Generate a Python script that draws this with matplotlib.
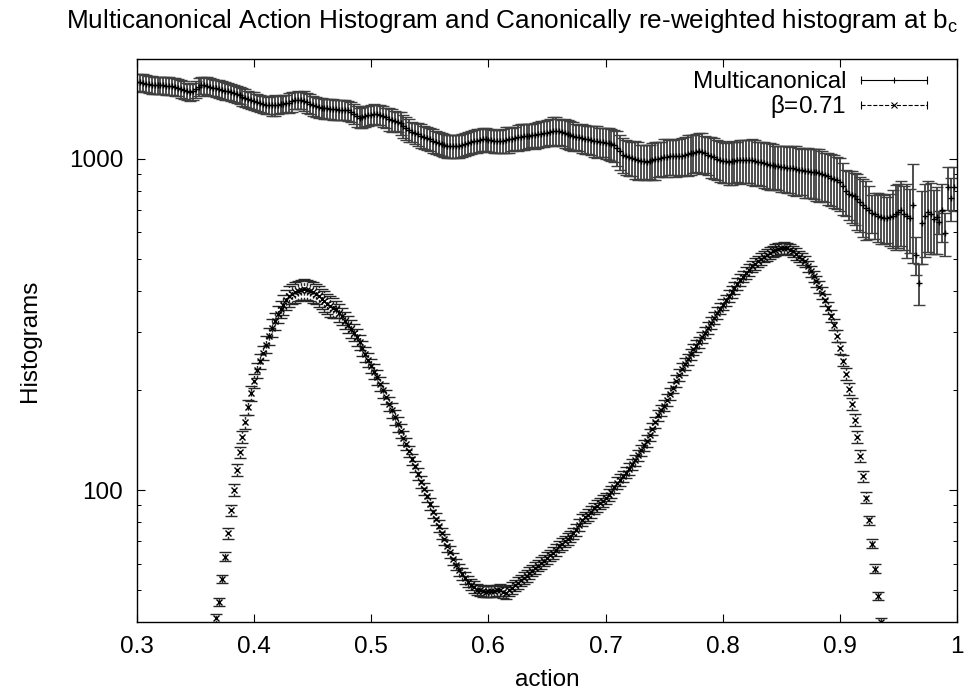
import numpy as np
import matplotlib
matplotlib.use("Agg")
import matplotlib.pyplot as plt
from matplotlib.lines import Line2D
from matplotlib.legend_handler import HandlerBase
from matplotlib.ticker import LogLocator, FuncFormatter, FormatStrFormatter, NullFormatter

plt.rcParams['font.family'] = ['Liberation Sans', 'DejaVu Sans']
FS = 17.5

# ---- data ----------------------------------------------------------------- #
# multicanonical action histogram, bins of 0.0025 from 0.3000 to 0.9975
action_mu = np.round(np.arange(0.300, 0.99751, 0.0025), 4)
hist_mu = [
    1700, 1702, 1695, 1686, 1680, 1672, 1670, 1668, 1665, 1664, 1660, 1660, 1655, 1650, 1640, 1628, 1615, 1600, 1590, 1598,
    1620, 1650, 1670, 1668, 1660, 1650, 1640, 1632, 1625, 1615, 1605, 1598, 1590, 1578, 1565, 1552, 1540, 1528, 1515, 1505,
    1495, 1482, 1470, 1462, 1455, 1450, 1450, 1452, 1455, 1460, 1465, 1470, 1475, 1490, 1500, 1506, 1505, 1495, 1480, 1465,
    1450, 1440, 1430, 1424, 1420, 1418, 1415, 1412, 1410, 1408, 1405, 1404, 1400, 1385, 1365, 1345, 1330, 1335, 1345, 1352,
    1360, 1365, 1362, 1355, 1345, 1332, 1320, 1310, 1300, 1292, 1280, 1258, 1235, 1218, 1205, 1195, 1185, 1175, 1165, 1155,
    1145, 1135, 1125, 1118, 1110, 1102, 1095, 1092, 1090, 1092, 1095, 1100, 1105, 1112, 1120, 1128, 1135, 1142, 1148, 1145,
    1140, 1136, 1132, 1130, 1130, 1135, 1140, 1145, 1150, 1155, 1160, 1165, 1170, 1172, 1175, 1178, 1180, 1185, 1190, 1195,
    1200, 1208, 1215, 1214, 1210, 1202, 1195, 1188, 1180, 1172, 1165, 1160, 1155, 1150, 1145, 1140, 1135, 1130, 1125, 1122,
    1118, 1115, 1110, 1098, 1080, 1052, 1030, 1018, 1010, 1005, 1000, 992, 985, 982, 980, 984, 990, 995, 1000, 1006,
    1012, 1015, 1018, 1017, 1016, 1017, 1020, 1028, 1035, 1038, 1042, 1048, 1052, 1047, 1040, 1030, 1020, 1010, 1000, 992,
    985, 982, 980, 982, 985, 988, 990, 992, 993, 992, 990, 985, 980, 975, 970, 965, 960, 956, 952, 948,
    945, 942, 940, 938, 935, 932, 928, 924, 920, 918, 915, 912, 910, 905, 900, 892, 885, 876, 868, 860,
    850, 825, 800, 785, 778, 770, 755, 740, 725, 712, 700, 688, 680, 674, 668, 664, 662, 665, 672, 682,
    690, 700, 680, 670, 664, 723, 513, 422, 640, 673, 690, 680, 660, 668, 645, 700, 598, 823, 762, 820,
]
err_mu_pct = [
    6, 6, 6, 6, 6, 6, 6, 6, 6, 6, 6, 6, 6, 6, 6, 6, 6, 6, 6, 6,
    6, 6, 6, 6, 6, 6, 6, 6, 6, 6, 6, 6, 6, 6, 6, 6, 6, 6, 6, 6,
    6, 6, 6, 6, 6, 6, 7, 7, 6, 6, 6, 6, 7, 7, 6, 6, 6, 7, 7, 7,
    7, 7, 7, 7, 7, 7, 7, 7, 7, 7, 7, 7, 7, 7, 7, 7, 7, 7, 7, 7,
    7, 7, 7, 7, 7, 7, 8, 8, 7, 7, 8, 8, 8, 8, 7, 7, 8, 8, 8, 8,
    8, 8, 8, 8, 8, 8, 8, 8, 8, 8, 8, 8, 8, 8, 8, 8, 8, 8, 8, 8,
    8, 8, 8, 8, 8, 8, 9, 9, 8, 8, 9, 9, 9, 9, 8, 8, 9, 9, 9, 9,
    9, 9, 10, 10, 9, 9, 10, 10, 10, 10, 9, 9, 10, 10, 10, 10, 11, 11, 10, 10,
    11, 11, 11, 11, 12, 12, 12, 12, 12, 12, 13, 13, 12, 12, 12, 12, 13, 13, 12, 12,
    13, 13, 12, 12, 13, 13, 13, 13, 14, 14, 13, 13, 14, 14, 13, 13, 14, 14, 14, 14,
    14, 14, 15, 15, 14, 14, 15, 15, 15, 15, 16, 16, 15, 15, 16, 16, 16, 16, 15, 15,
    16, 16, 16, 16, 17, 17, 16, 16, 17, 17, 17, 17, 18, 18, 17, 17, 18, 18, 18, 18,
    18, 18, 16, 17, 18, 18, 19, 19, 20, 20, 18, 13, 16, 17, 17, 17, 16, 18, 20, 22,
    22, 22, 22, 25, 22, 33, 13, 14, 25, 25, 24, 24, 22, 23, 8, 20, 15, 15, 15, 15,
]

# canonically re-weighted histogram at beta = 0.71, bins 0.365 .. 0.940
action_b = np.round(np.arange(0.365, 0.94001, 0.0025), 4)
hist_b = [
    36, 41, 46, 54, 63, 74, 87, 100, 115, 130,
    145, 161, 178, 196, 214, 230, 245, 260, 275, 292,
    309, 324, 339, 351, 363, 375, 385, 391, 396, 400,
    403, 404, 403, 400, 396, 391, 385, 378, 372, 365,
    359, 355, 351, 343, 335, 325, 316, 307, 299, 289,
    279, 268, 257, 247, 237, 228, 219, 209, 200, 191,
    182, 174, 166, 158, 151, 144, 138, 131, 124, 118,
    112, 106, 101, 96, 91, 86, 82, 78, 74, 71,
    68, 65, 62, 59.6, 57.5, 55.8, 54.3, 53.0, 51.9, 51.0,
    50.1, 49.8, 49.5, 49.4, 49.5, 49.7, 49.5, 49.9, 50.0, 49.3,
    49.0, 49.8, 50.7, 51.6, 52.5, 53.4, 54.3, 55.2, 56.2, 57.2,
    58.2, 59.2, 60.3, 61.3, 62.4, 63.5, 64.6, 66.1, 67.6, 68.8,
    70.0, 71.2, 72.4, 74.1, 75.9, 78.5, 81.3, 82.7, 84.1, 86.1,
    88.1, 89.6, 91.2, 92.8, 94.4, 96.6, 98.9, 102, 105, 107.5,
    110, 113, 116, 119.5, 123, 127.5, 132, 136.5, 141, 147,
    153, 160, 168, 174, 180, 187, 195, 204, 214, 223,
    232, 240, 248, 257, 266, 272, 279, 289, 299, 309,
    320, 331, 343, 353, 363, 374, 385, 396, 407, 419,
    431, 441, 452, 462, 473, 481, 490, 498, 507, 513,
    519, 525, 531, 534, 537, 538, 537, 532, 525, 516,
    507, 499, 490, 474, 457, 442, 427, 410, 394, 375,
    355, 336, 316, 292, 269, 246, 224, 202, 182, 163,
    145, 127, 110, 95, 81, 69, 58, 48, 40, 33,
    27,
]
err_b_pct = [
    3, 3, 3, 3, 3, 4, 4, 4, 4, 4,
    4, 5, 5, 5, 5, 5, 5, 5, 6, 6,
    6, 6, 6, 6, 7, 7, 7, 7, 7, 7,
    7, 7, 7, 7, 7, 7, 7, 7, 7, 7,
    7, 7, 6, 6, 6, 6, 6, 6, 6, 6,
    5, 5, 5, 5, 5, 5, 5, 5, 5, 5,
    5, 5, 5, 5, 5, 5, 4, 4, 4, 4,
    4, 4, 4, 4, 4, 4, 4, 4, 4, 4,
    4, 4, 4, 4, 4, 4, 4, 4, 4, 4,
    4, 4, 4, 4, 4, 4, 4, 4, 4, 4,
    4, 4, 4, 4, 4, 4, 4, 4, 4, 4,
    4, 4, 4, 4, 4, 4, 4, 4, 4, 4,
    4, 4, 4, 4, 4, 4, 4, 4, 4, 4,
    4, 4, 4, 4, 4, 4, 4, 4, 4, 4,
    4, 4, 4, 4, 4, 4, 4, 4, 4, 4,
    4, 4, 4, 4, 4, 4, 4, 4, 4, 4,
    4, 4, 4, 4, 4, 4, 4, 4, 4, 4,
    4, 4, 4, 4, 4, 4, 4, 4, 4, 4,
    4, 4, 4, 4, 4, 4, 4, 4, 4, 4,
    4, 4, 4, 4, 4, 4, 4, 4, 4, 4,
    4, 4, 4, 4, 4, 4, 4, 4, 4, 4,
    4, 4, 4, 4, 4, 4, 4, 4, 4, 4,
    4, 4, 4, 4, 3, 3, 3, 3, 3, 3,
    3,
]

hist_mu = np.array(hist_mu, float)
hist_b = np.array(hist_b, float)
dmu = hist_mu * np.array(err_mu_pct) / 100.0
db = hist_b * np.array(err_b_pct) / 100.0


class HBarHandler(HandlerBase):
    """gnuplot-like key sample: horizontal bar with end caps and a point."""
    def create_artists(self, legend, orig, xd, yd, w, h, fs, trans):
        yc = 0.5 * h - yd
        x0, x1 = -xd, -xd + w
        bar = Line2D([x0, x1], [yc, yc], color="k", lw=0.8, ls=orig.get_linestyle())
        caps = Line2D([x0, x1], [yc, yc], ls="none", marker="|", ms=6, mew=0.8, color="k")
        pt = Line2D([0.5 * (x0 + x1)], [yc], ls="none", marker=orig.get_marker(),
                    ms=4.5, mew=0.8, color="k")
        for a in (bar, caps, pt):
            a.set_transform(trans)
        return [bar, caps, pt]


fig = plt.figure(figsize=(9.68, 6.96), dpi=100)
ax = fig.add_axes([137 / 968, 1 - 622 / 696, 820 / 968, 563 / 696])

eb = ax.errorbar(action_mu, hist_mu, yerr=dmu, fmt="+", color="k", ms=5, mew=1.0,
                 ecolor="0.25", elinewidth=1.3, capsize=4, capthick=1.1)
for c in eb[1]:
    c.set_color("k")

eb2 = ax.errorbar(action_b, hist_b, yerr=db, fmt="x", color="k", ms=5, mew=1.0,
                  ecolor="0.15", elinewidth=1.0, capsize=4, capthick=1.1)
eb2[2][0].set_linestyle((0, (2, 1.5)))
for c in eb2[1]:
    c.set_color("k")

ax.set_xlim(0.3, 1.0)
ax.set_ylim(40, 2000)
ax.set_yscale("log")
ax.set_xticks([0.3, 0.4, 0.5, 0.6, 0.7, 0.8, 0.9, 1.0])
ax.xaxis.set_major_formatter(FormatStrFormatter("%g"))
ax.yaxis.set_major_locator(LogLocator(base=10))
ax.yaxis.set_major_formatter(FuncFormatter(lambda v, p: "%d" % round(v)))
ax.yaxis.set_minor_locator(LogLocator(base=10, subs=np.arange(2, 10)))
ax.yaxis.set_minor_formatter(NullFormatter())
ax.tick_params(which="major", direction="in", top=True, right=True, length=6,
               width=0.8, labelsize=FS)
ax.tick_params(axis="x", which="major", pad=10)
ax.tick_params(axis="y", which="major", pad=10)
ax.tick_params(which="minor", direction="in", right=True, length=3, width=0.7)
for s in ax.spines.values():
    s.set_linewidth(1.0)

ax.set_xlabel("action", fontsize=FS, labelpad=8)
ax.set_ylabel("Histograms", fontsize=FS, labelpad=20)

h1 = Line2D([], [], ls="-", marker="+")
h2 = Line2D([], [], ls=(0, (2, 1.5)), marker="x")
ax.legend([h1, h2], ["Multicanonical", r"$\mathregular{\beta}$=0.71"],
          handler_map={Line2D: HBarHandler()}, loc="upper right",
          frameon=False, markerfirst=False, fontsize=FS, handlelength=2.7,
          handletextpad=0.6, labelspacing=0.0, borderaxespad=0.1,
          bbox_to_anchor=(0.978, 1.0))

fig.text(512 / 968, 1 - 28 / 696, "Multicanonical Action Histogram and Canonically "
         "re-weighted histogram at b$_\\mathregular{c}$", ha="center", va="baseline",
         fontsize=18.8)

fig.savefig("out.png", dpi=100)
